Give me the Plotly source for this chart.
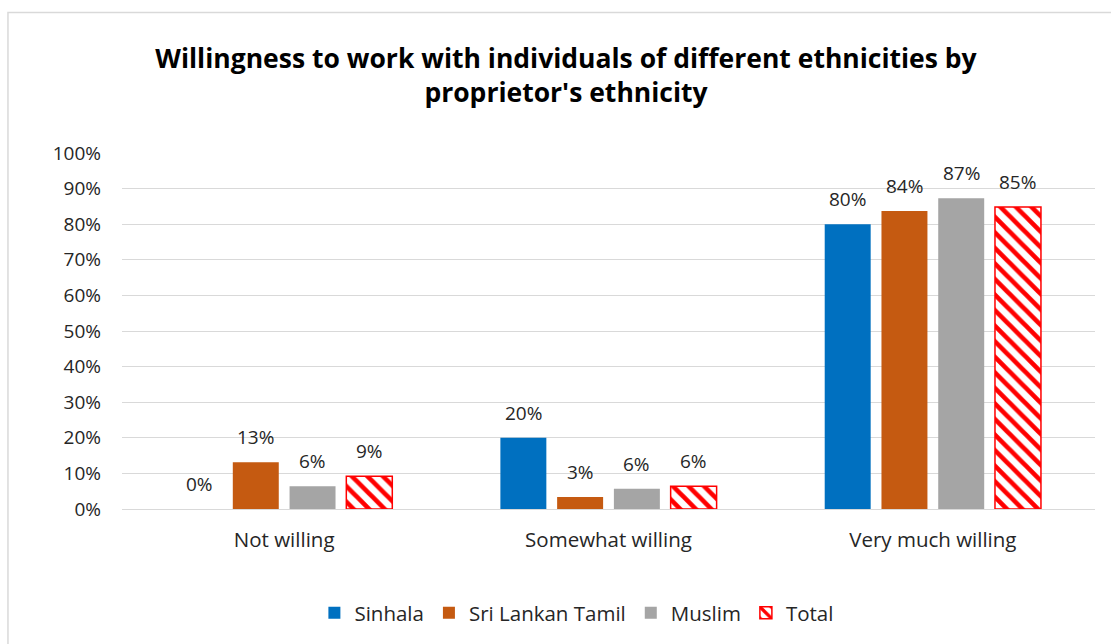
import plotly.graph_objects as go

# Willingness categories and proprietor ethnicity shares (fractions)
categories = ["Not willing", "Somewhat willing", "Very much willing"]
sinhala = [0.0, 0.200, 0.800]
sri_lankan_tamil = [0.131, 0.034, 0.837]
muslim = [0.064, 0.057, 0.873]
total = [0.092, 0.064, 0.848]

y_ticks = [i / 10 for i in range(11)]
y_tick_labels = [f"{i * 10}%" for i in range(11)]

FONT = "'Open Sans', sans-serif"
TEXT = "#262626"
GRID = "#d9d9d9"
BARGAP = 0.30

fig = go.Figure()

series = [
    ("Sinhala", sinhala, dict(color="#0070C0", line=dict(width=0))),
    ("Sri Lankan Tamil", sri_lankan_tamil, dict(color="#C55A11", line=dict(width=0))),
    ("Muslim", muslim, dict(color="#A5A5A5", line=dict(width=0))),
    ("Total", total, dict(
        color="white",
        line=dict(color="#FF0000", width=1.5),
        pattern=dict(shape="\\", fgcolor="#FF0000", bgcolor="white",
                     size=11, solidity=0.42, fillmode="replace"),
    )),
]
for name, vals, marker in series:
    fig.add_trace(go.Bar(name=name, x=categories, y=vals, marker=marker))

# Value labels above each bar, placed at the centre of its slot in the group
n = len(series)
slot = (1 - BARGAP) / n
for k, (name, vals, _) in enumerate(series):
    offset = -(1 - BARGAP) / 2 + slot * (k + 0.5)
    for i, v in enumerate(vals):
        fig.add_annotation(
            x=i + offset, y=v, text=f"{v:.0%}", showarrow=False,
            yanchor="middle", yshift=25,
            font=dict(size=19, color=TEXT, family=FONT),
        )

# Outer chart frame
fig.add_shape(type="rect", xref="paper", yref="paper",
              x0=-0.1172, x1=1.03, y0=-0.45, y1=1.395,
              line=dict(color=GRID, width=1.5), fillcolor="rgba(0,0,0,0)",
              layer="below")

fig.update_layout(
    width=1111, height=644,
    margin=dict(l=122, r=16, t=153, b=134),
    paper_bgcolor="white", plot_bgcolor="white",
    barmode="group", bargap=BARGAP, bargroupgap=0.19,
    font=dict(family=FONT, color=TEXT),
    title=dict(
        text="<b>Willingness to work with individuals of different ethnicities by<br>proprietor's ethnicity</b>",
        x=566 / 1111, xanchor="center", y=1 - 68 / 644, yanchor="top",
        font=dict(size=26.5, color="#000000", family=FONT),
    ),
    legend=dict(
        orientation="h", x=0.467, xanchor="center", y=-0.2885, yanchor="middle",
        font=dict(size=20.5, color=TEXT, family=FONT),
        traceorder="normal", itemclick=False,
    ),
    showlegend=True,
)

fig.update_yaxes(
    range=[0, 1], tickvals=y_ticks, ticktext=y_tick_labels,
    showgrid=True, gridcolor=GRID, gridwidth=1,
    zeroline=False, showline=False, ticks="",
    tickfont=dict(size=19, color=TEXT, family=FONT),
    ticklabelstandoff=20,
)
fig.update_xaxes(
    showline=True, linecolor=GRID, linewidth=1, ticks="",
    tickfont=dict(size=20.5, color=TEXT, family=FONT),
    ticklabelstandoff=12,
)

fig.write_html("out.html")
